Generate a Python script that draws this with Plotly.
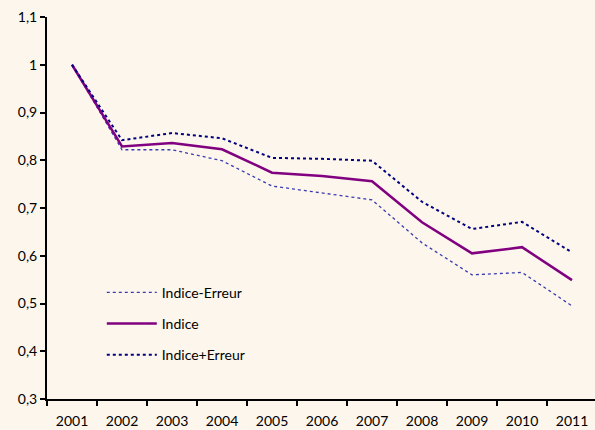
import plotly.graph_objects as go

years = ["2001", "2002", "2003", "2004", "2005", "2006", "2007", "2008", "2009", "2010", "2011"]
indice_moins = [1.0, 0.822, 0.822, 0.799, 0.746, 0.731, 0.717, 0.627, 0.560, 0.565, 0.495]
indice = [1.0, 0.829, 0.836, 0.823, 0.774, 0.767, 0.756, 0.670, 0.605, 0.618, 0.549]
indice_plus = [1.0, 0.842, 0.857, 0.846, 0.805, 0.803, 0.799, 0.713, 0.656, 0.671, 0.607]

fig = go.Figure()
fig.add_trace(go.Scatter(x=years, y=indice_moins, mode="lines", name="Indice-Erreur",
                         legendgroup="a", line=dict(color="#3a3ab0", width=1.3, dash="dot")))
fig.add_trace(go.Scatter(x=years, y=indice, mode="lines", name="Indice",
                         legendgroup="b", line=dict(color="#800080", width=2.5)))
fig.add_trace(go.Scatter(x=years, y=indice_plus, mode="lines", name="Indice+Erreur",
                         legendgroup="c", line=dict(color="#000080", width=2, dash="dot")))

fig.update_layout(
    width=595, height=430,
    margin=dict(l=47, r=0, t=17, b=31),
    paper_bgcolor="#fdf6ec", plot_bgcolor="#fdf6ec",
    font=dict(family="Lato", size=14, color="black"),
    separators=", ",
    showlegend=True,
    legend=dict(x=0.1, y=0.32, xanchor="left", yanchor="top",
                bgcolor="rgba(0,0,0,0)", tracegroupgap=10, itemwidth=50,
                traceorder="grouped", font=dict(size=14)),
    xaxis=dict(type="category", range=[-0.5, 10.46], showgrid=False,
               showline=True, linecolor="black", linewidth=2,
               ticks="outside", ticklen=5, tickwidth=2, tickcolor="black",
               tickson="boundaries", zeroline=False, fixedrange=True,
               automargin=False, ticklabelstandoff=8),
    yaxis=dict(range=[0.3, 1.1], dtick=0.1, tick0=0.3, showgrid=False,
               showline=True, linecolor="black", linewidth=2,
               ticks="outside", ticklen=5, tickwidth=2, tickcolor="black",
               zeroline=False, fixedrange=True, automargin=False,
               ticklabelstandoff=0),
)

fig.write_html(
    "out.html",
    config={"displayModeBar": False},
    post_script="document.body.style.margin='0';document.body.style.overflow='hidden';"
                "document.body.style.background='#fdf6ec';",
)
